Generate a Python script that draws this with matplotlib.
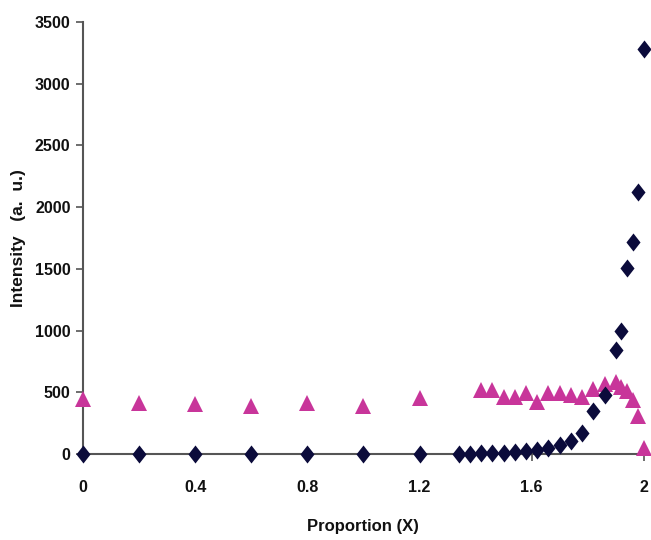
import matplotlib
matplotlib.use("Agg")
import matplotlib.pyplot as plt
from matplotlib.path import Path

# ── data ──────────────────────────────────────────────────────────────
diamond_x = [0, 0.2, 0.4, 0.6, 0.8, 1.0, 1.2,
             1.34, 1.38, 1.42, 1.46, 1.50, 1.54, 1.58, 1.62, 1.66, 1.70,
             1.74, 1.78, 1.82, 1.86, 1.90, 1.92, 1.94, 1.96, 1.98, 2.0]
diamond_y = [0, 0, 0, 0, 0, 0, 0,
             0, 2, 4, 6, 10, 15, 25, 35, 50, 75,
             105, 170, 350, 480, 840, 1000, 1510, 1720, 2120, 3280]

triangle_x = [0, 0.2, 0.4, 0.6, 0.8, 1.0, 1.2,
              1.42, 1.46, 1.50, 1.54, 1.58, 1.62, 1.66, 1.70, 1.74, 1.78,
              1.82, 1.86, 1.90, 1.92, 1.94, 1.96, 1.98, 2.0]
triangle_y = [445, 411, 405, 390, 411, 385, 455,
              518, 518, 458, 458, 494, 420, 494, 494, 481, 464,
              525, 565, 580, 540, 508, 440, 310, 50]

x_ticks = [0, 0.4, 0.8, 1.2, 1.6, 2.0]
x_ticklabels = ["0", "0.4", "0.8", "1.2", "1.6", "2"]
y_ticks = [0, 500, 1000, 1500, 2000, 2500, 3000, 3500]

# ── style ─────────────────────────────────────────────────────────────
plt.rcParams["font.family"] = ["Liberation Sans", "DejaVu Sans"]
plt.rcParams["font.weight"] = "bold"

NAVY = "#0b0b3b"
MAGENTA = "#c8359a"
AXIS = "#555555"

# diamond a bit taller than wide, like the Excel marker
tall_diamond = Path([(0, 1), (0.78, 0), (0, -1), (-0.78, 0), (0, 1)],
                    [Path.MOVETO, Path.LINETO, Path.LINETO, Path.LINETO, Path.CLOSEPOLY])

fig = plt.figure(figsize=(6.51, 5.40), dpi=100)
ax = fig.add_axes([0.1275, 0.1593, 0.8615, 0.7998])

ax.plot(triangle_x, triangle_y, linestyle="none", marker="^", markersize=11.5,
        color=MAGENTA, markeredgewidth=0, clip_on=False, zorder=3)
ax.plot(diamond_x, diamond_y, linestyle="none", marker=tall_diamond, markersize=13,
        color=NAVY, markeredgewidth=0, clip_on=False, zorder=4)

ax.set_xlim(0, 2)
ax.set_ylim(0, 3500)
ax.set_xticks(x_ticks)
ax.set_xticklabels(x_ticklabels)
ax.set_yticks(y_ticks)

for side in ("top", "right"):
    ax.spines[side].set_visible(False)
for side in ("left", "bottom"):
    ax.spines[side].set_color(AXIS)
    ax.spines[side].set_linewidth(1.5)

ax.tick_params(axis="both", direction="out", length=5, width=1.2, color=AXIS,
               labelsize=11.5, labelcolor="#111111")
ax.tick_params(axis="x", pad=14)
ax.tick_params(axis="y", pad=4)

ax.set_xlabel("Proportion (X)", fontsize=12, fontweight="bold", color="#111111", labelpad=17)
ax.set_ylabel("Intensity   (a.  u.)", fontsize=12.5, fontweight="bold", color="#111111", labelpad=6)

fig.savefig("out.png", dpi=100)
